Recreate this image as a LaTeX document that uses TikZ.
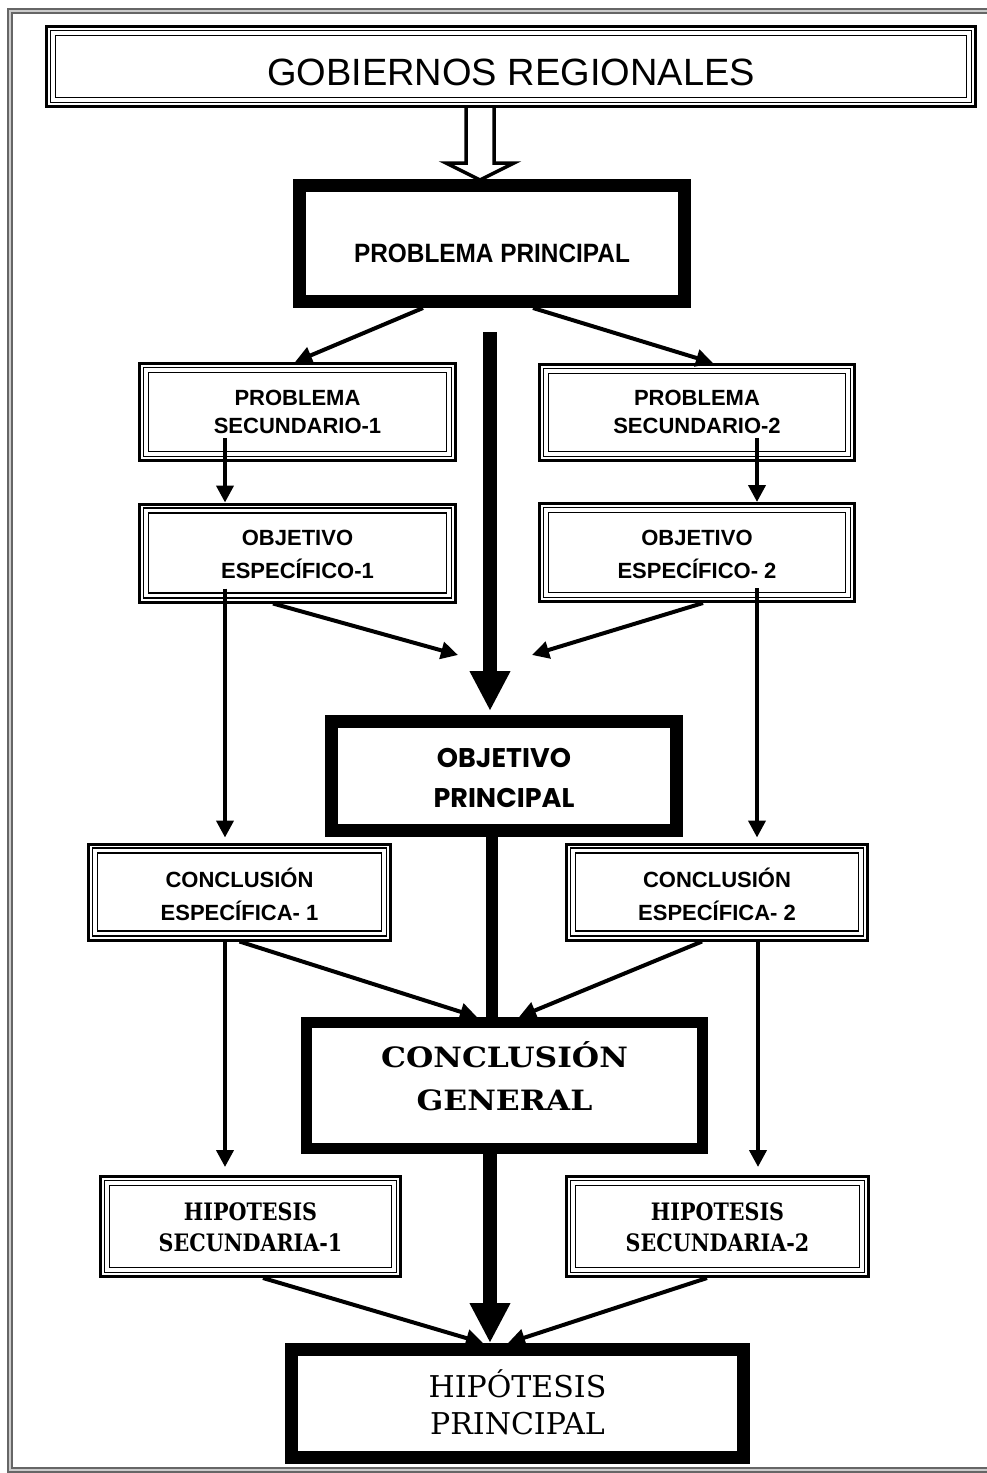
\documentclass[tikz,border=0pt]{standalone}
\usepackage{fontspec}
\setmainfont{Liberation Sans}
\newfontfamily\grfont{Liberation Sans}
\newfontfamily\condsans[FakeStretch=0.92]{Liberation Sans}
\newfontfamily\geofont{Poppins}
\newfontfamily\slabfont{DejaVu Serif}
\newfontfamily\wideslab[FakeStretch=1.12]{DejaVu Serif}
\newfontfamily\condslab[FakeStretch=0.86]{DejaVu Serif}
\usetikzlibrary{arrows.meta,calc}
\newcommand\twolines[2]{\begin{tabular}[t]{@{}c@{}}#1\\#2\end{tabular}}
\tikzset{
  tribox/.style={draw, line width=3pt, inner sep=0pt,
    path picture={
      \draw[line width=1.6pt] ([shift={(4pt,-4pt)}]path picture bounding box.north west) rectangle ([shift={(-4pt,4pt)}]path picture bounding box.south east);
      \draw[line width=1.8pt] ([shift={(9pt,-9pt)}]path picture bounding box.north west) rectangle ([shift={(-9pt,9pt)}]path picture bounding box.south east);
    }},
  thickbox/.style={draw, line width=13pt, inner sep=0pt},
  thinarrow/.style={line width=4pt, -{Triangle[length=17pt,width=17pt]}},
  bigarrow/.style={line width=14pt, -{Triangle[length=40pt,width=38pt]}},
  secfont/.style={font=\grfont\bfseries\fontsize{22}{#1}\selectfont},
  hsfont/.style={font=\condslab\bfseries\fontsize{24}{31}\selectfont},
  lower/.style={text height=0pt, text depth=#1},
  raise/.style={text height=#1, text depth=0pt},
}
\begin{document}
\begin{tikzpicture}[x=1pt,y=-1pt]
\fill[white] (0,0) rectangle (987,1473);
\useasboundingbox (0,0) rectangle (987,1473);
% outer frame
\draw[black!60, line width=2pt, double=black!20, double distance=2pt] (995,11) -- (10,11) -- (10,1470) -- (995,1470);

% boxes
\node[tribox, minimum width=929pt, minimum height=80pt, raise=37pt, font=\grfont\fontsize{38}{40}\selectfont] (gr) at (511,66.5) {GOBIERNOS REGIONALES};
\node[thickbox, minimum width=385pt, minimum height=116pt, raise=37pt, font=\condsans\bfseries\fontsize{26.5}{30}\selectfont] (pp) at (492,243.5) {PROBLEMA PRINCIPAL};

\node[tribox, minimum width=316pt, minimum height=97pt, secfont=28, lower=14pt] (ps1) at (297.5,412) {\twolines{PROBLEMA}{SECUNDARIO-1}};
\node[tribox, minimum width=315pt, minimum height=96pt, secfont=28, lower=15pt] (ps2) at (697,412.5) {\twolines{PROBLEMA}{SECUNDARIO-2}};
\node[tribox, minimum width=316pt, minimum height=98pt, secfont=33, lower=16pt] (oe1) at (297.5,553) {\twolines{OBJETIVO}{ESPECÍFICO-1}};
\node[tribox, minimum width=315pt, minimum height=98pt, secfont=33, lower=15pt] (oe2) at (697,552.5) {\twolines{OBJETIVO}{ESPECÍFICO- 2}};

\node[thickbox, minimum width=345pt, minimum height=109pt, lower=18pt, font=\geofont\bfseries\fontsize{27}{40}\selectfont] (op) at (504,776) {\twolines{OBJETIVO}{PRINCIPAL}};

\node[tribox, minimum width=302pt, minimum height=96pt, secfont=33, lower=10pt] (ce1) at (239.5,892) {\twolines{CONCLUSIÓN}{ESPECÍFICA- 1}};
\node[tribox, minimum width=301pt, minimum height=96pt, secfont=33, lower=10pt] (ce2) at (717,892) {\twolines{CONCLUSIÓN}{ESPECÍFICA- 2}};

\node[thickbox, line width=11pt, minimum width=396pt, minimum height=126pt, lower=37pt, font=\wideslab\bfseries\fontsize{28}{43}\selectfont] (cg) at (504.5,1085.5) {\twolines{CONCLUSIÓN}{GENERAL}};

\node[tribox, minimum width=300pt, minimum height=100pt, hsfont, lower=13pt] (hs1) at (250.5,1226.5) {\twolines{HIPOTESIS}{SECUNDARIA-1}};
\node[tribox, minimum width=302pt, minimum height=100pt, hsfont, lower=13pt] (hs2) at (717.5,1226.5) {\twolines{HIPOTESIS}{SECUNDARIA-2}};

\node[thickbox, minimum width=452pt, minimum height=108pt, lower=13pt, font=\slabfont\fontsize{30}{37}\selectfont] (hp) at (517.5,1403.5) {\twolines{HIPÓTESIS}{PRINCIPAL}};

% hollow arrow
\draw[line width=3.5pt, fill=white, line join=miter] ([xshift=-45pt]gr.south) -- ++(0,55) -- ++(-20,0) -- ++(34,17) -- ++(34,-17) -- ++(-20,0) -- ++(0,-55);

% connectors
\draw[thinarrow] ([xshift=-69pt]pp.south) -- ([xshift=-2.5pt]ps1.north);
\draw[thinarrow] ([xshift=41pt]pp.south) -- ([xshift=16pt]ps2.north);
\coordinate (bigstart) at (490,332);
\draw[bigarrow] (bigstart) -- ([xshift=-14pt,yshift=4pt]op.north);

\draw[thinarrow] ([xshift=-72.5pt,yshift=24pt]ps1.south) -- ([xshift=-72.5pt]oe1.north);
\draw[thinarrow] ([xshift=60pt,yshift=24pt]ps2.south) -- ([xshift=60pt]oe2.north);

\coordinate (mL) at (458,655);
\coordinate (mR) at (532,655);
\draw[thinarrow] ([xshift=-24.5pt]oe1.south) -- (mL);
\draw[thinarrow] ([xshift=6pt]oe2.south) -- (mR);

\draw[thinarrow] ([xshift=-72.5pt,yshift=15pt]oe1.south) -- ([xshift=-14.5pt,yshift=5pt]ce1.north);
\draw[thinarrow] ([xshift=60pt,yshift=15pt]oe2.south) -- ([xshift=40pt,yshift=5pt]ce2.north);

\draw[line width=12pt] ([xshift=-12pt]op.south) -- ([xshift=-12.5pt]cg.north);
\draw[thinarrow] (ce1.south) -- ([xshift=-27.5pt]cg.north);
\draw[thinarrow] ([xshift=-15pt]ce2.south) -- ([xshift=14.5pt]cg.north);

\draw[thinarrow] ([xshift=-14.5pt]ce1.south) -- ([xshift=-25.5pt,yshift=8pt]hs1.north);
\draw[thinarrow] ([xshift=41pt]ce2.south) -- ([xshift=40.5pt,yshift=8pt]hs2.north);

\draw[bigarrow] ([xshift=-14.5pt]cg.south) -- ([xshift=-27.5pt]hp.north);
\draw[thinarrow] ([xshift=12.5pt]hs1.south) -- ([xshift=-34.5pt]hp.north);
\draw[thinarrow] ([xshift=-10.5pt]hs2.south) -- ([xshift=-9.5pt]hp.north);
\end{tikzpicture}
\end{document}
